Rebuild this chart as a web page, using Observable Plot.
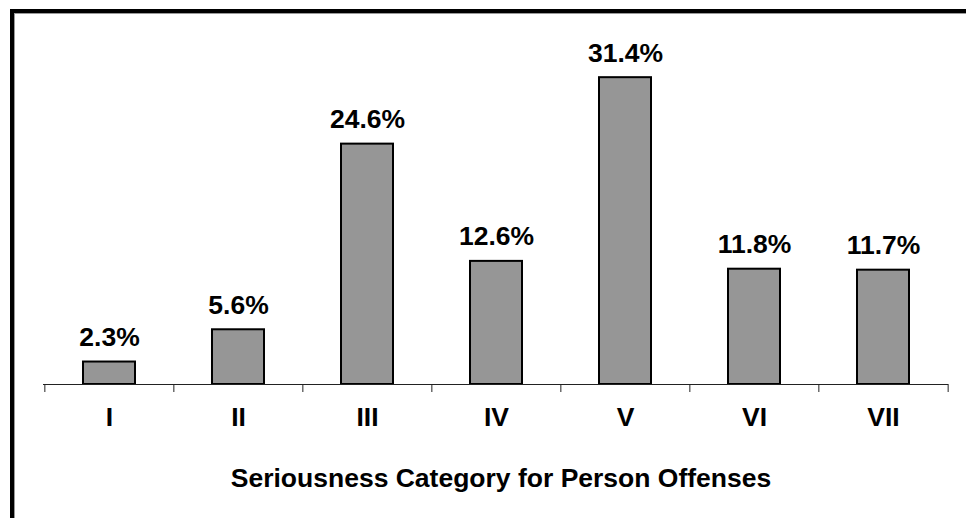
<!DOCTYPE html>
<html>
<head>
<meta charset="utf-8">
<script src="https://cdn.jsdelivr.net/npm/d3@7"></script>
<script src="https://cdn.jsdelivr.net/npm/@observablehq/plot@0.6"></script>
<style>
  html, body { margin: 0; padding: 0; background: #fff; }
  #wrap { position: relative; width: 966px; height: 518px; overflow: hidden; }
  #frame {
    position: absolute; left: 10px; top: 9px; width: 2000px; height: 2000px;
    border-top: 4px solid #000; border-left: 4px solid #000;
    box-shadow: inset 1px 1px 0 #9a9a9a; pointer-events: none;
  }
  #chart svg { display: block; }
</style>
</head>
<body>
<div id="wrap">
  <div id="chart"></div>
  <div id="frame"></div>
</div>
<script>
const categories = ["I", "II", "III", "IV", "V", "VI", "VII"];
const values = [2.3, 5.6, 24.6, 12.6, 31.4, 11.8, 11.7];
const valueLabels = ["2.3%", "5.6%", "24.6%", "12.6%", "31.4%", "11.8%", "11.7%"];
const xTitle = "Seriousness Category for Person Offenses";

const data = categories.map((c, i) => ({cat: c, value: values[i], label: valueLabels[i]}));

const W = 966, H = 518;
const mL = 43, mR = 18, mT = 42, mB = 134;
const step = (W - mL - mR) / categories.length;
const font = "'Liberation Sans', Arial, sans-serif";

const chart = Plot.plot({
  width: W,
  height: H,
  marginLeft: mL,
  marginRight: mR,
  marginTop: mT,
  marginBottom: mB,
  style: {fontFamily: font, background: "#fff", color: "#000"},
  x: {domain: categories, paddingInner: 0.6, paddingOuter: 0.3, axis: null},
  y: {domain: [0, 35], axis: null},
  marks: [
    Plot.barY(data, {x: "cat", y: "value", fill: "#969696", stroke: "#000", strokeWidth: 2}),
    Plot.ruleY([0], {stroke: "#222", strokeWidth: 1}),
    Plot.ruleX(categories, {x: d => d, y1: 0, y2: 0, insetBottom: -8, dx: -step / 2, stroke: "#222", strokeWidth: 1}),
    Plot.ruleX([categories[categories.length - 1]], {x: d => d, y1: 0, y2: 0, insetBottom: -8, dx: step / 2, stroke: "#222", strokeWidth: 1}),
    Plot.text(data, {x: "cat", y: "value", text: "label", lineAnchor: "bottom", dy: -16, fontSize: 26.5, fontWeight: "bold", fill: "#000"}),
    Plot.text(data, {x: "cat", y: 0, text: "cat", lineAnchor: "bottom", dy: 41, fontSize: 26.5, fontWeight: "bold", fill: "#000"}),
    Plot.text([xTitle], {frameAnchor: "bottom", text: d => d, lineAnchor: "bottom", dx: 5, dy: 102, fontSize: 26.5, fontWeight: "bold", fill: "#000"})
  ]
});
document.getElementById("chart").appendChild(chart);
</script>
</body>
</html>
